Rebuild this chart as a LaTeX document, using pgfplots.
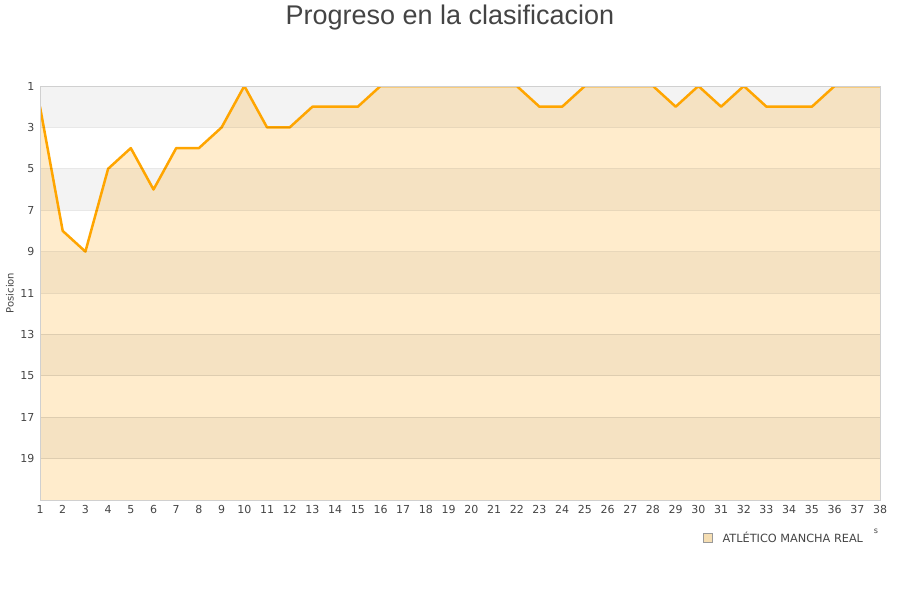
\documentclass[border=0pt]{standalone}
\usepackage{fontspec}
\setmainfont{DejaVu Sans}
\newfontfamily\titlefont{Liberation Sans}
\usepackage{pgfplots}
\pgfplotsset{compat=1.18}
\definecolor{txt}{HTML}{444444}
\definecolor{band}{HTML}{F3F3F3}
\definecolor{frame}{HTML}{D0D0D0}
\definecolor{lineor}{HTML}{FFA500}
\definecolor{areaor}{RGB}{255,160,0}
\definecolor{legbox}{HTML}{F5DEB3}
\begin{document}
\begin{tikzpicture}[x=1pt,y=1pt]
\path[use as bounding box] (0,0) rectangle (900,600);
\node[font=\titlefont\fontsize{27}{31}\selectfont, text=txt] at (450,582) {Progreso en la clasificacion};
\node[font=\fontsize{10}{12}\selectfont, text=txt, rotate=90] at (10,307) {Posicion};
\node[font=\fontsize{8}{10}\selectfont, text=txt] at (876,69) {s};
\begin{axis}[
    at={(40pt,100pt)}, anchor=south west,
    width=840pt, height=414pt, scale only axis,
    xmin=1, xmax=38, ymin=1, ymax=21,
    y dir=reverse,
    xtick={1,...,38},
    ytick={1,3,...,19},
    axis on top,
    ymajorgrids=true,
    grid style={black, opacity=0.09, line width=0.8pt},
    axis line style={draw=frame, line width=1pt},
    major tick length=0pt,
    tick label style={font=\fontsize{11}{13}\selectfont, text=txt},
    /pgf/number format/assume math mode=true,
    xticklabel style={yshift=-2pt},
    yticklabel style={xshift=-2pt},
    legend style={at={(rel axis cs:0.986,-0.092)}, anchor=east, draw=none, fill=none,
        font=\fontsize{11.3}{13}\selectfont, text=txt},
]
\fill[band] (axis cs:1,1) rectangle (axis cs:38,3);
\fill[band] (axis cs:1,5) rectangle (axis cs:38,7);
\fill[band] (axis cs:1,9) rectangle (axis cs:38,11);
\fill[band] (axis cs:1,13) rectangle (axis cs:38,15);
\fill[band] (axis cs:1,17) rectangle (axis cs:38,19);
\addplot[draw=none, fill=areaor, fill opacity=0.2, forget plot] coordinates {
(1,2)(2,8)(3,9)(4,5)(5,4)(6,6)(7,4)(8,4)(9,3)(10,1)
(11,3)(12,3)(13,2)(14,2)(15,2)(16,1)(17,1)(18,1)(19,1)(20,1)
(21,1)(22,1)(23,2)(24,2)(25,1)(26,1)(27,1)(28,1)(29,2)(30,1)
(31,2)(32,1)(33,2)(34,2)(35,2)(36,1)(37,1)(38,1)(38,21)(1,21)
};
\addplot[draw=lineor, line width=2.5pt, line join=round, mark=none, forget plot] coordinates {
(1,2)(2,8)(3,9)(4,5)(5,4)(6,6)(7,4)(8,4)(9,3)(10,1)
(11,3)(12,3)(13,2)(14,2)(15,2)(16,1)(17,1)(18,1)(19,1)(20,1)
(21,1)(22,1)(23,2)(24,2)(25,1)(26,1)(27,1)(28,1)(29,2)(30,1)
(31,2)(32,1)(33,2)(34,2)(35,2)(36,1)(37,1)(38,1)
};
\addlegendimage{legend image code/.code={\draw[draw=gray!80, fill=legbox, fill opacity=1] (-5pt,-4.5pt) rectangle (4pt,4.5pt);}}
\addlegendentry{\hspace{8pt}ATLÉTICO MANCHA REAL}
\end{axis}
\end{tikzpicture}
\end{document}
